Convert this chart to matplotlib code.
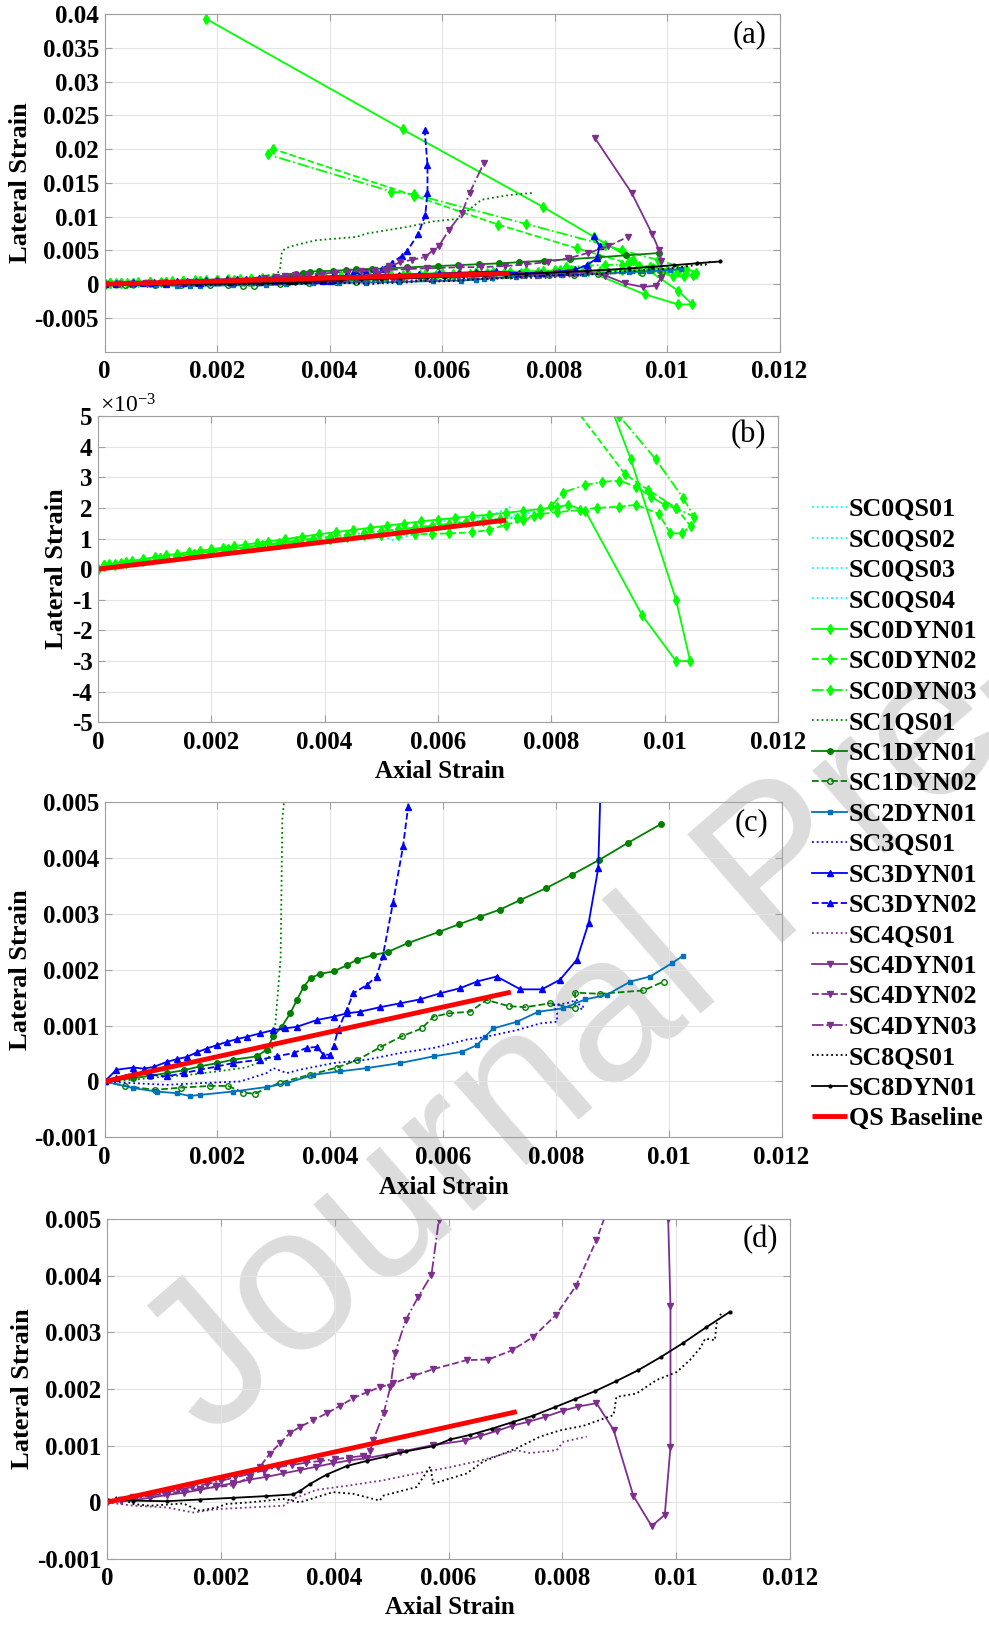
import matplotlib
matplotlib.use('Agg')
import matplotlib.pyplot as plt
from matplotlib.ticker import FuncFormatter

plt.rcParams['font.family'] = ['Liberation Serif', 'DejaVu Sans']
plt.rcParams['font.weight'] = 'bold'
plt.rcParams['mathtext.default'] = 'regular'

# ---- data (axial strain, lateral strain) ----
SC0QS01_x = [0, 0.0005, 0.001, 0.0015, 0.002, 0.0025, 0.003, 0.0035, 0.004, 0.0045, 0.005, 0.0055, 0.006, 0.0064]
SC0QS01_y = [0, 0.00008, 0.0002, 0.00032, 0.00044, 0.00056, 0.00068, 0.0008, 0.00092, 0.00103, 0.00113, 0.00127, 0.0015, 0.00175]
SC0QS02_x = [0, 0.0005, 0.001, 0.0015, 0.002, 0.003, 0.004, 0.005, 0.0052, 0.0056, 0.006, 0.0065, 0.007, 0.0075, 0.0078]
SC0QS02_y = [0, 0.0001, 0.00022, 0.00034, 0.00045, 0.00068, 0.0009, 0.0011, 0.00095, 0.00115, 0.00135, 0.0015, 0.00165, 0.0018, 0.0019]
SC0QS03_x = [0, 0.001, 0.002, 0.003, 0.004, 0.005, 0.006, 0.0065, 0.007, 0.0073]
SC0QS03_y = [0, 0.00025, 0.0005, 0.00072, 0.00095, 0.00118, 0.0014, 0.0016, 0.0018, 0.00205]
SC0QS04_x = [0, 0.001, 0.002, 0.003, 0.004, 0.005, 0.006, 0.007, 0.0076]
SC0QS04_y = [0, 0.00021, 0.00043, 0.00066, 0.00089, 0.00112, 0.00136, 0.0016, 0.00178]

SC0DYN01_x = [0, 0.0001, 0.0002, 0.0004, 0.0006, 0.0008, 0.001, 0.0012, 0.0014, 0.0016, 0.0018, 0.002, 0.0022,
              0.0024, 0.0026, 0.0028, 0.003, 0.0033, 0.0036, 0.0039, 0.0042, 0.0045, 0.0048, 0.0051, 0.0054, 0.0057,
              0.006, 0.0063, 0.0066, 0.0069, 0.0072, 0.0075, 0.0078, 0.0081, 0.0083, 0.0086, 0.0096, 0.0102, 0.01045,
              0.0102, 0.0094, 0.0087, 0.0078, 0.0053, 0.0018]
SC0DYN01_y = [0, 0.00012, 0.00016, 0.00021, 0.00027, 0.00033, 0.00039, 0.00045, 0.0005, 0.00055, 0.0006, 0.00065,
              0.0007, 0.00075, 0.0008, 0.00085, 0.0009, 0.00098, 0.00106, 0.00114, 0.00121, 0.00128, 0.00135, 0.00142,
              0.00149, 0.00156, 0.00162, 0.00167, 0.00173, 0.00178, 0.00184, 0.0019, 0.00196, 0.00203, 0.0021, 0.0019,
              -0.0015, -0.003, -0.003, -0.001, 0.0036, 0.007, 0.0114, 0.0229, 0.0393]
SC0DYN02_x = [0, 0.0001, 0.0003, 0.0005, 0.0008, 0.0011, 0.0014, 0.0017, 0.002, 0.0023, 0.0026, 0.0029, 0.0032,
              0.0035, 0.0038, 0.0041, 0.0044, 0.0047, 0.005, 0.0053, 0.0056, 0.0059, 0.0062, 0.0066, 0.0069, 0.0072,
              0.0075, 0.0078, 0.0081, 0.0085, 0.0088, 0.0092, 0.0095, 0.0099, 0.0101, 0.0103, 0.01046, 0.0102,
              0.0097, 0.0093, 0.0084, 0.007, 0.0055, 0.003]
SC0DYN02_y = [0, 0.0001, 0.00015, 0.0002, 0.00027, 0.00035, 0.00043, 0.0005, 0.00057, 0.00064, 0.0007, 0.00076,
              0.00082, 0.00088, 0.00094, 0.001, 0.00105, 0.0011, 0.00112, 0.00113, 0.00114, 0.00115, 0.00117, 0.0012,
              0.00128, 0.00145, 0.0016, 0.0018, 0.00186, 0.00193, 0.002, 0.00204, 0.0021, 0.0018, 0.00117, 0.00117,
              0.0014, 0.002, 0.0026, 0.0031, 0.0053, 0.0088, 0.0131, 0.02]
SC0DYN03_x = [0, 0.0001, 0.0003, 0.0005, 0.0008, 0.0011, 0.0014, 0.0017, 0.002, 0.0023, 0.0026, 0.0029, 0.0032,
              0.0035, 0.0038, 0.0041, 0.0044, 0.0047, 0.005, 0.0053, 0.0056, 0.0059, 0.0062, 0.0065, 0.0068, 0.0071,
              0.0074, 0.0077, 0.008, 0.0082, 0.0086, 0.0089, 0.0092, 0.0095, 0.00975, 0.01, 0.0102, 0.01052, 0.01033,
              0.00984, 0.0092, 0.0089, 0.0075, 0.0055, 0.0051, 0.0029]
SC0DYN03_y = [0, 0.00013, 0.00018, 0.00022, 0.00029, 0.00036, 0.00044, 0.00051, 0.00058, 0.00065, 0.00072, 0.00079,
              0.00086, 0.00093, 0.001, 0.00106, 0.00112, 0.00118, 0.00124, 0.0013, 0.00136, 0.00142, 0.00148, 0.00153,
              0.00158, 0.00163, 0.00168, 0.00175, 0.00205, 0.0025, 0.00275, 0.00285, 0.00289, 0.00269, 0.00237, 0.0021,
              0.00199, 0.00171, 0.00231, 0.00359, 0.005, 0.0058, 0.0089, 0.0133, 0.0137, 0.0192]

SC1QS01_x = [0, 0.0005, 0.001, 0.0015, 0.002, 0.0025, 0.0029, 0.003, 0.00312, 0.00315, 0.00321, 0.0034, 0.00376,
             0.00448, 0.00466, 0.0054, 0.00584, 0.00633, 0.0064, 0.0067, 0.0072, 0.0076]
SC1QS01_y = [0, 0.00003, 0.00008, 0.00012, 0.00018, 0.00025, 0.0004, 0.0007, 0.0022, 0.0047, 0.0053, 0.0058, 0.0065,
             0.007, 0.0075, 0.0085, 0.0093, 0.0097, 0.0105, 0.0125, 0.0132, 0.0135]
SC1DYN01_x = [0, 0.00051, 0.0008, 0.0011, 0.0014, 0.00169, 0.002, 0.00228, 0.0027, 0.00287, 0.00299, 0.00314,
              0.00329, 0.00341, 0.00353, 0.00365, 0.00382, 0.00406, 0.00429, 0.00447, 0.00475, 0.00502, 0.00538,
              0.00593, 0.00629, 0.00665, 0.00701, 0.00737, 0.00782, 0.00828, 0.00877, 0.00927, 0.00986]
SC1DYN01_y = [0, 0.00006, 0.0001, 0.00015, 0.0002, 0.00027, 0.00033, 0.00039, 0.00045, 0.00057, 0.00081, 0.00098,
              0.00122, 0.00146, 0.0017, 0.00185, 0.00193, 0.00197, 0.00208, 0.00218, 0.00226, 0.00232, 0.00248,
              0.00268, 0.00282, 0.00295, 0.00308, 0.00325, 0.00346, 0.0037, 0.00397, 0.00427, 0.00461]
SC1DYN02_x = [0, 0.00036, 0.00089, 0.00136, 0.00187, 0.00219, 0.00246, 0.00266, 0.00311, 0.00364, 0.00412, 0.00447,
              0.00488, 0.00527, 0.00562, 0.00583, 0.0061, 0.00648, 0.00677, 0.00716, 0.00745, 0.0079, 0.00834,
              0.00834, 0.00878, 0.00955, 0.00991]
SC1DYN02_y = [0, -0.00008, -0.00015, -0.00011, -0.00008, -0.00008, -0.0002, -0.00022, -0.00002, 0.00012, 0.00025,
              0.00038, 0.00061, 0.00081, 0.00095, 0.00116, 0.00122, 0.00125, 0.00146, 0.00135, 0.00133, 0.0014,
              0.00131, 0.00159, 0.00157, 0.00163, 0.00179]
SC2DYN01_x = [0, 0.00051, 0.00092, 0.00128, 0.00151, 0.00169, 0.00228, 0.00287, 0.00323, 0.0037, 0.00417, 0.00465,
              0.00524, 0.00583, 0.00633, 0.0066, 0.00674, 0.00689, 0.00731, 0.00769, 0.00813, 0.00852, 0.0089,
              0.00932, 0.00967, 0.01006, 0.01025]
SC2DYN01_y = [0, -0.00012, -0.00018, -0.00021, -0.00026, -0.00024, -0.00018, -0.0001, -0.00003, 0.00012, 0.00018,
              0.00024, 0.00033, 0.00045, 0.00053, 0.00065, 0.0008, 0.00095, 0.00107, 0.00125, 0.00131, 0.00147,
              0.00155, 0.00179, 0.00188, 0.00212, 0.00225]
SC3QS01_x = [0, 0.00051, 0.0011, 0.00169, 0.0024, 0.00287, 0.00299, 0.00323, 0.00346, 0.00406, 0.00465, 0.00524,
             0.00583, 0.00642, 0.00671, 0.00731, 0.00772, 0.00802, 0.00802, 0.00796, 0.00819, 0.00837, 0.00846, 0.0085]
SC3QS01_y = [0, -0.00003, -0.00006, -0.00003, 0.0, 0.00015, 0.00024, 0.00015, 0.00021, 0.00033, 0.00039, 0.00051,
             0.0006, 0.00075, 0.00079, 0.00092, 0.00104, 0.00107, 0.00122, 0.00137, 0.0014, 0.00146, 0.00128, 0.0014]
SC3DYN01_x = [0, 0.00021, 0.00051, 0.00069, 0.00087, 0.0011, 0.00128, 0.00146, 0.00163, 0.00181, 0.00199, 0.00217,
              0.00235, 0.00252, 0.00275, 0.00299, 0.0032, 0.00341, 0.00376, 0.00406, 0.00429, 0.00453, 0.00488,
              0.00524, 0.00559, 0.00595, 0.0063, 0.0066, 0.00695, 0.00737, 0.00775, 0.00807, 0.00837, 0.00858,
              0.00875, 0.0088, 0.0087]
SC3DYN01_y = [0, 0.00021, 0.00025, 0.00023, 0.00026, 0.00035, 0.0004, 0.00044, 0.00052, 0.00059, 0.00065, 0.00071,
              0.00076, 0.0008, 0.00086, 0.00092, 0.00095, 0.00098, 0.0011, 0.00116, 0.00122, 0.00125, 0.00133,
              0.0014, 0.00147, 0.00158, 0.00167, 0.00179, 0.00188, 0.00165, 0.00165, 0.00182, 0.00218, 0.00284,
              0.00382, 0.0056, 0.0071]
SC3DYN02_x = [0, 0.00021, 0.00051, 0.0008, 0.0011, 0.0014, 0.00169, 0.002, 0.00228, 0.00275, 0.00305, 0.00335,
              0.00358, 0.00376, 0.00388, 0.004, 0.00406, 0.00414, 0.00429, 0.00441, 0.00465, 0.00482, 0.00493,
              0.00511, 0.00529, 0.00538, 0.00558, 0.0057, 0.00574, 0.00574, 0.00569]
SC3DYN02_y = [0, 0.00006, 0.00015, 0.00012, 0.00009, 0.00015, 0.00021, 0.00027, 0.00033, 0.00039, 0.00045, 0.00051,
              0.0006, 0.00062, 0.00048, 0.00048, 0.00063, 0.00093, 0.00128, 0.00158, 0.00173, 0.00188, 0.00224,
              0.00319, 0.00421, 0.00492, 0.0075, 0.0102, 0.0135, 0.0177, 0.0228]

SC4QS01_x = [0, 0.00046, 0.00105, 0.00152, 0.00193, 0.00251, 0.0031, 0.00327, 0.00368, 0.00427, 0.00486, 0.00544,
             0.00603, 0.00661, 0.00719, 0.00743, 0.0079, 0.00802, 0.00843]
SC4QS01_y = [0, -0.00006, -0.00009, -0.00018, -0.00012, -0.00009, -0.00006, 0.00006, 0.00022, 0.0003, 0.00039,
             0.00051, 0.00062, 0.00075, 0.00092, 0.00087, 0.00092, 0.00107, 0.00116]
SC4DYN01_x = [0, 0.00025, 0.00046, 0.00075, 0.00105, 0.00135, 0.00163, 0.00192, 0.00222, 0.0025, 0.0028, 0.0031,
              0.00339, 0.00368, 0.00397, 0.00426, 0.00456, 0.00515, 0.00573, 0.00629, 0.00655, 0.00685, 0.00711,
              0.0074, 0.0077, 0.00802, 0.00828, 0.0086, 0.0089, 0.00925, 0.00957, 0.0098, 0.0099, 0.0099, 0.00986,
              0.00973, 0.00937, 0.00872]
SC4DYN01_y = [0, 0.00002, 0.00004, 0.00008, 0.00013, 0.00017, 0.00022, 0.00028, 0.00034, 0.0004, 0.00045, 0.00051,
              0.00057, 0.00063, 0.00069, 0.00074, 0.00078, 0.00089, 0.00101, 0.00109, 0.00117, 0.00126, 0.00135,
              0.00142, 0.00151, 0.00162, 0.00169, 0.00175, 0.00128, 0.00011, -0.00042, -0.00022, 0.00098, 0.00346,
              0.005, 0.0075, 0.0135, 0.0216]
SC4DYN02_x = [0, 0.00025, 0.00046, 0.00075, 0.00105, 0.00135, 0.00163, 0.00192, 0.00222, 0.00251, 0.00269, 0.00286,
              0.00304, 0.00321, 0.00339, 0.00362, 0.00386, 0.00409, 0.00433, 0.00456, 0.00479, 0.00503, 0.00538,
              0.00573, 0.00632, 0.0067, 0.00711, 0.00749, 0.00789, 0.00824, 0.0086, 0.00895, 0.0093]
SC4DYN02_y = [0, 0.00005, 0.00009, 0.00012, 0.00015, 0.0002, 0.00024, 0.00027, 0.0003, 0.00045, 0.00063, 0.00086,
              0.00104, 0.00122, 0.00133, 0.00145, 0.00157, 0.0017, 0.00184, 0.00194, 0.00203, 0.0021, 0.00223,
              0.00235, 0.00251, 0.00252, 0.00268, 0.00292, 0.00331, 0.00382, 0.00463, 0.0056, 0.007]
SC4DYN03_x = [0, 0.00025, 0.0005, 0.00075, 0.001, 0.00125, 0.0015, 0.00175, 0.002, 0.00225, 0.0025, 0.00275, 0.003,
              0.00325, 0.0035, 0.00375, 0.004, 0.00425, 0.0045, 0.00462, 0.00468, 0.00486, 0.00498, 0.00506, 0.00525,
              0.00547, 0.0057, 0.00583, 0.00594, 0.00612, 0.00635, 0.00649, 0.00674]
SC4DYN03_y = [0, 0.00004, 0.00008, 0.00012, 0.00017, 0.00022, 0.00027, 0.00032, 0.00038, 0.00044, 0.0005, 0.00056,
              0.00062, 0.00066, 0.0007, 0.00073, 0.00076, 0.00079, 0.00082, 0.0009, 0.0011, 0.00157, 0.00204,
              0.00263, 0.00322, 0.00363, 0.00401, 0.00498, 0.0056, 0.008, 0.0105, 0.0135, 0.0179]
SC8QS01_x = [0, 0.00019, 0.00046, 0.00076, 0.00134, 0.00163, 0.00193, 0.0021, 0.00251, 0.0031, 0.00339, 0.00397,
             0.00433, 0.00479, 0.00486, 0.00544, 0.00568, 0.00573, 0.00632, 0.00661, 0.00719, 0.00761, 0.00796,
             0.00837, 0.0089, 0.00895, 0.0093, 0.00966, 0.01001, 0.01024, 0.01042, 0.01051, 0.01068, 0.01071, 0.0108]
SC8QS01_y = [0, 0.0001, -0.00003, -0.00006, -0.00002, -0.00015, -0.00009, -0.00003, 0.0, 0.00006, 0.0, 0.00018,
             0.00015, 0.00003, 0.00012, 0.00027, 0.00063, 0.00033, 0.00051, 0.00072, 0.00095, 0.00116, 0.00127,
             0.00135, 0.00154, 0.00186, 0.00192, 0.00216, 0.0023, 0.00251, 0.00272, 0.00289, 0.00286, 0.00315, 0.00336]
SC8DYN01_x = [0, 0.00046, 0.00105, 0.00163, 0.00222, 0.0028, 0.00327, 0.00339, 0.00356, 0.00386, 0.00421, 0.00456,
              0.00491, 0.00526, 0.00573, 0.00603, 0.00638, 0.00676, 0.00714, 0.00749, 0.00787, 0.00822, 0.00857,
              0.00895, 0.00933, 0.00974, 0.01012, 0.01053, 0.01094]
SC8DYN01_y = [0.00004, 0.00003, 0.00002, 0.00005, 0.00008, 0.00011, 0.00014, 0.0002, 0.00032, 0.00049, 0.00064,
              0.00073, 0.00081, 0.0009, 0.00099, 0.00111, 0.00119, 0.0013, 0.00142, 0.00153, 0.00168, 0.00182,
              0.00196, 0.00214, 0.00233, 0.00257, 0.00281, 0.00309, 0.00336]

QS_x = [0, 0.0072]
QS_y = [0, 0.0016]

names = ['SC0QS01', 'SC0QS02', 'SC0QS03', 'SC0QS04', 'SC0DYN01', 'SC0DYN02', 'SC0DYN03', 'SC1QS01', 'SC1DYN01',
         'SC1DYN02', 'SC2DYN01', 'SC3QS01', 'SC3DYN01', 'SC3DYN02', 'SC4QS01', 'SC4DYN01', 'SC4DYN02', 'SC4DYN03',
         'SC8QS01', 'SC8DYN01']
series = {n: (globals()[n + '_x'], globals()[n + '_y']) for n in names}

cyan, lime, dgreen, sblue, blue, purple = '#00FFFF', '#00FF00', '#008000', '#0072BD', '#0000FF', '#7E2F8E'
styles = {
    'SC0QS01': dict(color=cyan, ls=':'), 'SC0QS02': dict(color=cyan, ls=':'),
    'SC0QS03': dict(color=cyan, ls=':'), 'SC0QS04': dict(color=cyan, ls=':'),
    'SC0DYN01': dict(color=lime, ls='-', marker='d', ms=5),
    'SC0DYN02': dict(color=lime, ls='--', marker='d', ms=5),
    'SC0DYN03': dict(color=lime, ls='-.', marker='d', ms=5),
    'SC1QS01': dict(color=dgreen, ls=':'),
    'SC1DYN01': dict(color=dgreen, ls='-', marker='o', ms=4),
    'SC1DYN02': dict(color=dgreen, ls='--', marker='o', ms=4, mfc='none'),
    'SC2DYN01': dict(color=sblue, ls='-', marker='s', ms=3),
    'SC3QS01': dict(color=blue, ls=':'),
    'SC3DYN01': dict(color=blue, ls='-', marker='^', ms=5),
    'SC3DYN02': dict(color=blue, ls='--', marker='^', ms=5),
    'SC4QS01': dict(color=purple, ls=':'),
    'SC4DYN01': dict(color=purple, ls='-', marker='v', ms=5),
    'SC4DYN02': dict(color=purple, ls='--', marker='v', ms=5),
    'SC4DYN03': dict(color=purple, ls='-.', marker='v', ms=5),
    'SC8QS01': dict(color='black', ls=':'),
    'SC8DYN01': dict(color='black', ls='-', marker='.', ms=4),
}

W, H = 989, 1625
fig = plt.figure(figsize=(W / 100, H / 100), dpi=100)

# watermark behind the (transparent) axes
fig.text(210 / W, 1 - 1441 / H, 'Journal Pre-proof', fontsize=150, color='#dcdcdc', rotation=41,
         rotation_mode='anchor', ha='left', va='baseline', family='Liberation Sans', weight='normal', zorder=-5)


def make_axes(left, right, top, bottom):
    return fig.add_axes([left / W, 1 - bottom / H, (right - left) / W, (bottom - top) / H])


def draw(ax, which):
    for n in which:
        x, y = series[n]
        ax.plot(x, y, lw=1.3, label=n, **styles[n])
    ax.plot(QS_x, QS_y, color='red', lw=3.5, label='QS Baseline', solid_capstyle='butt')


def style(ax, ylim, yticks, yscale=1.0):
    ax.set_facecolor('none')
    ax.set_xlim(0, 0.012)
    ax.set_ylim(ylim)
    ax.set_xticks([0, 0.002, 0.004, 0.006, 0.008, 0.01, 0.012])
    ax.set_yticks(yticks)
    ax.xaxis.set_major_formatter(FuncFormatter(lambda v, p: '%g' % round(v, 6)))
    ax.yaxis.set_major_formatter(FuncFormatter(lambda v, p: '%g' % round(v * yscale, 6)))
    ax.grid(True, color='#e4e4e4', lw=0.8)
    ax.set_axisbelow(True)
    ax.tick_params(direction='in', top=True, right=True, length=5, width=0.8, color='#a0a0a0', labelsize=18)
    ax.tick_params(axis='x', pad=6)
    ax.tick_params(axis='y', pad=4)
    for s in ax.spines.values():
        s.set_color('#a0a0a0')


ax_a = make_axes(104.6, 779.6, 14, 351.7)
ax_b = make_axes(98, 778, 416, 722.3)
ax_c = make_axes(104.6, 781.6, 802.3, 1137.3)
ax_d = make_axes(107, 790, 1219, 1559)

draw(ax_a, names)
draw(ax_b, names[:7])
draw(ax_c, names[7:14])
draw(ax_d, names[14:])

style(ax_a, (-0.01, 0.04), [-0.005 + 0.005 * i for i in range(10)])
style(ax_b, (-0.005, 0.005), [-0.005 + 0.001 * i for i in range(11)], yscale=1000)
style(ax_c, (-0.001, 0.005), [-0.001 + 0.001 * i for i in range(7)])
style(ax_d, (-0.001, 0.005), [-0.001 + 0.001 * i for i in range(7)])

for ax, tag in zip([ax_a, ax_b, ax_c, ax_d], ['(a)', '(b)', '(c)', '(d)']):
    ax.text(0.956, 0.94, tag, transform=ax.transAxes, ha='center', va='center', fontsize=22, weight='normal')

fig.text(100 / W, 1 - 418 / H, r'$\times10^{-3}$', fontsize=17, weight='normal', ha='left', va='bottom')

# axis labels
for xc, yc in [(21, 183), (57, 569), (21, 970), (23, 1389)]:
    fig.text(xc / W, 1 - yc / H, 'Lateral Strain', rotation=90, ha='center', va='center', fontsize=19)
for xc, yc in [(440, 771), (444, 1188), (450, 1608)]:
    fig.text(xc / W, 1 - yc / H, 'Axial Strain', ha='center', va='center', fontsize=18)

handles, labels = ax_a.get_legend_handles_labels()
fig.legend(handles, labels, loc='upper left', bbox_to_anchor=(812 / W, 1 - 498 / H), frameon=False, fontsize=18.7,
           handlelength=1.35, handletextpad=0.06, labelspacing=0.28, borderpad=0, borderaxespad=0)

fig.savefig('out.png', dpi=100)
